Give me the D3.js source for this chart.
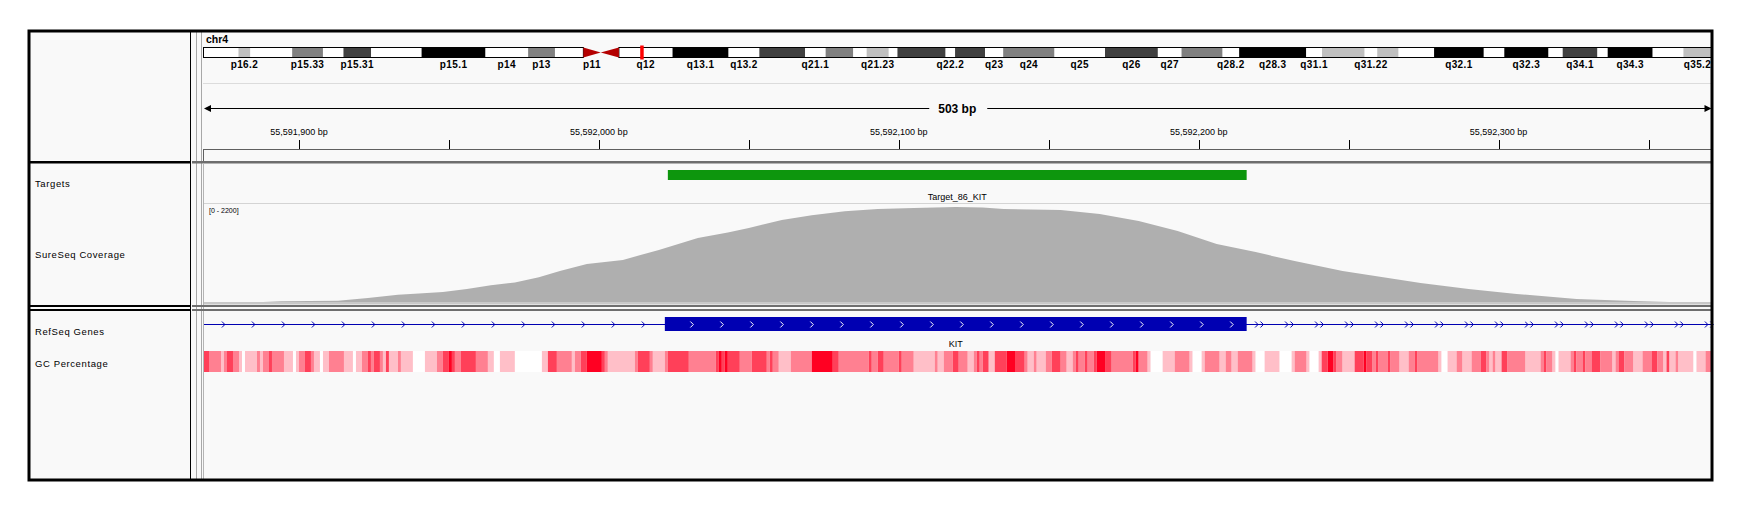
<!DOCTYPE html>
<html><head><meta charset="utf-8">
<script src="https://cdn.jsdelivr.net/npm/d3@7"></script>
<style>
body{margin:0;background:#fff}
svg{display:block}
text{font-family:Arial,"Liberation Sans",sans-serif}
</style></head>
<body><svg id="chart" width="1743" height="511"></svg>
<script>
// ---------------- DATA ----------------
const chromosome = "chr4";
const chrLength = 191154276;
const viewStart = 55591868;
const viewEnd = 55592371;

const bandNames = ["p16.3","p16.2","p16.1","p15.33","p15.32","p15.31","p15.2","p15.1","p14","p13","p12","p11","q11","q12","q13.1","q13.2","q13.3","q21.1","q21.21","q21.22","q21.23","q21.3","q22.1","q22.2","q22.3","q23","q24","q25","q26","q27","q28.1","q28.2","q28.3","q31.1","q31.21","q31.22","q31.23","q31.3","q32.1","q32.2","q32.3","q33","q34.1","q34.2","q34.3","q35.1","q35.2"];
const bandStartsMb = [0,4.5,6.0,11.3,15.2,17.8,21.3,27.7,35.8,41.2,44.6,48.2,50.4,52.7,59.5,66.6,70.5,76.3,78.9,82.4,84.1,86.9,88.0,94.1,95.3,99.1,101.4,107.9,114.3,121.0,124.0,129.2,131.3,139.8,141.8,147.2,148.8,151.5,156.0,162.3,164.9,170.5,172.3,176.7,178.0,183.7,187.6];
const bandStains = ["gneg","gpos25","gneg","gpos50","gneg","gpos75","gneg","gpos100","gneg","gpos50","gneg","acen","acen","gneg","gpos100","gneg","gpos75","gneg","gpos50","gneg","gpos25","gneg","gpos75","gneg","gpos75","gneg","gpos50","gneg","gpos75","gneg","gpos50","gneg","gpos100","gneg","gpos25","gneg","gpos25","gneg","gpos100","gneg","gpos100","gneg","gpos75","gneg","gpos100","gneg","gpos25"];
const shownBandLabels = ["p16.2","p15.33","p15.31","p15.1","p14","p13","p11","q12","q13.1","q13.2","q21.1","q21.23","q22.2","q23","q24","q25","q26","q27","q28.2","q28.3","q31.1","q31.22","q32.1","q32.3","q34.1","q34.3","q35.2"];

const trackNames = ["Targets","SureSeq Coverage","RefSeq Genes","GC Percentage"];

const targetNames = ["Target_86_KIT"];
const targetStarts = [55592023];
const targetEnds = [55592216];

const coverageRange = [0, 2200];
const coverageOffsets = [0,20,26,45,55,65,72,80,88,96,104,112,119,128,140,152,165,175,182,193,203,214,225,237,251,260,267,286,299,312,325,338,351,364,380,393,406,422,438,458,477,489,503];
const coverageValues  = [0,0,15,30,90,160,190,225,290,375,440,555,695,855,945,1170,1435,1560,1660,1840,1950,2040,2090,2110,2130,2120,2090,2065,1975,1820,1595,1300,1120,920,695,560,425,290,180,70,22,0,0];

const geneName = "KIT";
const exonStart = 55592022;
const exonEnd = 55592216;

// GC percentage runs: start offset (bp from viewStart) and GC %
const gcOffsets = [0,2,6,7,8,10,12,13,14,18,19,20,22,23,27,30,31,32,34,36,37,39,40,42,47,50,51,53,55,56,57,59,60,61,62,65,66,70,74,78,80,82,83,84,86,91,95,97,99,104,113,115,118,123,124,126,128,133,134,135,144,145,149,150,154,155,162,
171,172,173,174,175,179,183,188,189,190,192,196,203,210,212,222,223,225,227,232,233,237,244,245,247,250,252,255,257,258,259,260,262,264,268,271,274,275,277,278,281,283,286,288,290,291,292,294,295,297,298,301,303,310,311,312,315,316,320,324,329,330,333,334,
339,341,343,345,350,351,354,359,363,364,368,369,372,373,375,377,378,380,384,387,388,390,391,392,395,396,399,402,404,405,412,413,415,418,420,423,426,428,429,430,431,433,435,441,446,447,448,450,451,452,456,457,458,460,461,463,466,470,471,472,474,477,480,483,485,487,488,489,491,492,497,498,501];
const gcValues = [75,60,45,60,75,60,45,25,45,60,45,60,75,60,45,25,45,60,75,60,45,25,45,60,45,25,45,60,75,60,75,60,45,75,45,60,45,25,45,60,75,90,75,60,75,60,45,25,45,25,45,75,60,45,60,75,90,75,60,45,60,75,60,45,60,75,60,
75,90,75,90,75,60,75,60,75,60,45,60,90,75,60,75,60,75,60,75,60,45,60,45,60,75,60,45,60,75,60,75,45,75,90,75,60,45,60,45,60,75,60,45,60,75,60,75,60,75,90,75,60,75,90,60,45,25,45,60,45,25,45,60,
45,60,45,60,45,25,45,25,45,60,45,25,45,75,90,75,60,45,75,90,75,60,75,60,75,60,45,60,75,60,45,25,45,60,45,60,75,60,45,60,45,75,60,45,60,75,60,45,25,45,60,75,60,75,60,75,60,45,60,75,60,45,60,75,60,45,75,45,60,45,25,45,60];

// ---------------- LAYOUT ----------------
const svg = d3.select("#chart");
const OX0 = 28, OY0 = 30, OX1 = 1713, OY1 = 481;
const NAME_R = 190;
const DX0 = 203, DX1 = 1711.5;
const SEP1 = 161, SEP2a = 305, SEP2b = 309;

svg.append("rect").attr("x",0).attr("y",0).attr("width",1743).attr("height",511).attr("fill","#fff");
svg.append("rect").attr("x",OX0).attr("y",OY0).attr("width",OX1-OX0).attr("height",OY1-OY0).attr("fill","#f9f9f9");

// ---------------- SCALES ----------------
const x = d3.scaleLinear().domain([viewStart, viewEnd]).range([DX0, DX1]);
const xi = d3.scaleLinear().domain([0, chrLength]).range([DX0, DX1]);

// ---------------- IDEOGRAM ----------------
const bands = bandNames.map((n,i)=>({name:n, start:bandStartsMb[i]*1e6, end:(i<bandNames.length-1?bandStartsMb[i+1]*1e6:chrLength), stain:bandStains[i]}));
const stainColor = {gneg:"#ffffff", gpos25:"#c0c0c0", gpos50:"#808080", gpos75:"#404040", gpos100:"#000000"};
const IY = 47.5, IH = 10;
const ideo = svg.append("g");
bands.filter(b=>b.stain!=="acen").forEach(b=>{
  ideo.append("rect").attr("x",xi(b.start)).attr("y",IY).attr("width",xi(b.end)-xi(b.start)).attr("height",IH)
    .attr("fill",stainColor[b.stain]);
});
const acen = bands.filter(b=>b.stain==="acen");
const pArmEnd = acen[0].start, qArmStart = acen[1].end;
ideo.append("rect").attr("x",xi(0)+0.5).attr("y",IY).attr("width",xi(pArmEnd)-xi(0)-0.5).attr("height",IH).attr("fill","none").attr("stroke","#000").attr("stroke-width",1);
ideo.append("rect").attr("x",xi(qArmStart)).attr("y",IY).attr("width",xi(chrLength)-xi(qArmStart)).attr("height",IH).attr("fill","none").attr("stroke","#000").attr("stroke-width",1);
ideo.append("path").attr("d",`M${xi(acen[0].start)},${IY}L${xi(acen[0].end)},${IY+IH/2}L${xi(acen[0].start)},${IY+IH}Z`).attr("fill","#b40000");
ideo.append("path").attr("d",`M${xi(acen[1].end)},${IY}L${xi(acen[1].start)},${IY+IH/2}L${xi(acen[1].end)},${IY+IH}Z`).attr("fill","#b40000");
ideo.append("rect").attr("x",xi((viewStart+viewEnd)/2)-1.5).attr("y",IY-2).attr("width",3.5).attr("height",IH+4).attr("fill","#ff0000");
bands.filter(b=>shownBandLabels.includes(b.name)).forEach(b=>{
  ideo.append("text").attr("x",(xi(b.start)+xi(b.end))/2).attr("y",IY+IH+10).attr("text-anchor","middle")
    .attr("font-size","10px").attr("font-weight","bold").attr("letter-spacing","0.4").attr("fill","#000").text(b.name);
});
svg.append("text").attr("x",DX0+3).attr("y",43).attr("font-size","10.5px").attr("font-weight","bold").text(chromosome);

svg.append("line").attr("x1",DX0).attr("x2",DX1).attr("y1",83.5).attr("y2",83.5).attr("stroke","#dcdcdc");

// ---------------- RULER ----------------
const span = viewEnd - viewStart;
const RY = 108.5, mid = (DX0+DX1)/2;
const rl = svg.append("g");
rl.append("line").attr("x1",DX0+2).attr("x2",mid-28).attr("y1",RY).attr("y2",RY).attr("stroke","#000");
rl.append("line").attr("x1",mid+30).attr("x2",DX1-2).attr("y1",RY).attr("y2",RY).attr("stroke","#000");
rl.append("path").attr("d",`M${DX0+1},${RY}L${DX0+8},${RY-3.5}L${DX0+8},${RY+3.5}Z`).attr("fill","#000");
rl.append("path").attr("d",`M${DX1},${RY}L${DX1-7},${RY-3.5}L${DX1-7},${RY+3.5}Z`).attr("fill","#000");
rl.append("text").attr("x",mid).attr("y",RY+4.5).attr("text-anchor","middle").attr("font-size","12px").attr("font-weight","bold").text(span+" bp");
const majorTicks = d3.range(Math.ceil(viewStart/100)*100, viewEnd, 100);
const minorTicks = d3.range(Math.ceil(viewStart/50)*50, viewEnd, 50).filter(t=>t%100!==0);
majorTicks.forEach(t=>{
  rl.append("line").attr("x1",Math.round(x(t))+0.5).attr("x2",Math.round(x(t))+0.5).attr("y1",140).attr("y2",149).attr("stroke","#000");
  rl.append("text").attr("x",x(t)).attr("y",134.5).attr("text-anchor","middle").attr("font-size","9px").attr("fill","#000").text(d3.format(",")(t)+" bp");
});
minorTicks.forEach(t=>{
  rl.append("line").attr("x1",Math.round(x(t))+0.5).attr("x2",Math.round(x(t))+0.5).attr("y1",140).attr("y2",149).attr("stroke","#000");
});
svg.append("line").attr("x1",DX0).attr("x2",DX1).attr("y1",149.5).attr("y2",149.5).attr("stroke","#606060");
svg.append("line").attr("x1",DX0+0.5).attr("x2",DX0+0.5).attr("y1",149.5).attr("y2",SEP1).attr("stroke","#606060");

// ---------------- TARGETS ----------------
const tg = svg.append("g");
targetNames.forEach((n,i)=>{
  tg.append("rect").attr("x",x(targetStarts[i])).attr("y",170).attr("width",x(targetEnds[i])-x(targetStarts[i])).attr("height",10).attr("fill","#0d960d");
  tg.append("text").attr("x",(x(targetStarts[i])+x(targetEnds[i]))/2).attr("y",199.5).attr("text-anchor","middle").attr("font-size","9px").text(n);
});
svg.append("line").attr("x1",DX0).attr("x2",DX1).attr("y1",203.5).attr("y2",203.5).attr("stroke","#d4d4d4");

// ---------------- COVERAGE ----------------
const COV_TOP = 204, COV_BASE = 302;
const yc = d3.scaleLinear().domain(coverageRange).range([COV_BASE, COV_TOP]);
const covData = coverageOffsets.map((o,i)=>({pos:viewStart+o, v:coverageValues[i]}));
svg.append("path").datum(covData)
  .attr("d", d3.area().x(d=>x(d.pos)).y0(COV_BASE).y1(d=>yc(d.v)).curve(d3.curveLinear))
  .attr("fill","#afafaf");
svg.append("rect").attr("x",DX0).attr("y",COV_BASE).attr("width",DX1-DX0).attr("height",2.5).attr("fill","#c8c8c8");
svg.append("text").attr("x",DX0+6).attr("y",213).attr("font-size","7px").text(`[${coverageRange[0]} - ${coverageRange[1]}]`);

// ---------------- REFSEQ GENES ----------------
const GY = 324.5, blue = "#0000b2";
const gn = svg.append("g");
gn.append("line").attr("x1",DX0).attr("x2",DX1).attr("y1",GY).attr("y2",GY).attr("stroke",blue).attr("stroke-width",1);
gn.append("rect").attr("x",x(exonStart)).attr("y",317).attr("width",x(exonEnd)-x(exonStart)).attr("height",14).attr("fill",blue);
const chev = (cx, col) => gn.append("path").attr("d",`M${cx-1.5},${GY-3}L${cx+1.5},${GY}L${cx-1.5},${GY+3}`).attr("fill","none").attr("stroke",col).attr("stroke-width",1);
d3.range(viewStart+6.8, exonStart-2, 10).forEach(p=>chev(x(p), blue));
d3.range(exonStart+9, exonEnd-1, 10).forEach(p=>chev(x(p), "#ffffff"));
d3.range(exonEnd+3.3, viewEnd, 10).forEach(p=>{ chev(x(p), blue); chev(x(p+1.8), blue); });
gn.append("text").attr("x",(x(exonStart)+x(exonEnd))/2).attr("y",347).attr("text-anchor","middle").attr("font-size","9px").text(geneName);

// ---------------- GC PERCENTAGE ----------------
const gcColor = d3.scaleLinear().domain([30, 90]).range(["#ffffff","#ff0022"]).clamp(true);
const gcg = svg.append("g");
gcOffsets.forEach((o,i)=>{
  const s = viewStart + o, e = viewStart + (i<gcOffsets.length-1 ? gcOffsets[i+1] : span);
  gcg.append("rect").attr("x",x(s)).attr("y",351).attr("width",x(e)-x(s)).attr("height",21).attr("fill",gcColor(gcValues[i]));
});

// ---------------- FRAME / SEPARATORS ----------------
svg.append("line").attr("x1",NAME_R+0.5).attr("x2",NAME_R+0.5).attr("y1",OY0).attr("y2",OY1).attr("stroke","#000");
svg.append("line").attr("x1",196.5).attr("x2",196.5).attr("y1",OY0).attr("y2",OY1).attr("stroke","#a8a8a8");
svg.append("line").attr("x1",201.5).attr("x2",201.5).attr("y1",OY0).attr("y2",OY1).attr("stroke","#a8a8a8");
svg.append("line").attr("x1",DX0+0.5).attr("x2",DX0+0.5).attr("y1",SEP1+3).attr("y2",OY1).attr("stroke","#b4b4b4");
[[SEP1,2.5],[SEP2a,2],[SEP2b,2]].forEach(([y,h])=>{
  svg.append("rect").attr("x",OX0).attr("y",y).attr("width",NAME_R-OX0+1).attr("height",h).attr("fill","#000");
  svg.append("rect").attr("x",192).attr("y",y).attr("width",DX1-192).attr("height",h).attr("fill","#6e6e6e");
});
svg.append("rect").attr("x",OX0+1).attr("y",OY0+1).attr("width",OX1-OX0-2).attr("height",OY1-OY0-2).attr("fill","none").attr("stroke","#000").attr("stroke-width",3);

const nameY = [186.5, 258, 335, 367];
trackNames.forEach((n,i)=>{
  svg.append("text").attr("x",35).attr("y",nameY[i]).attr("font-size","9.5px").attr("letter-spacing","0.6").attr("fill","#000").text(n);
});
</script></body></html>
